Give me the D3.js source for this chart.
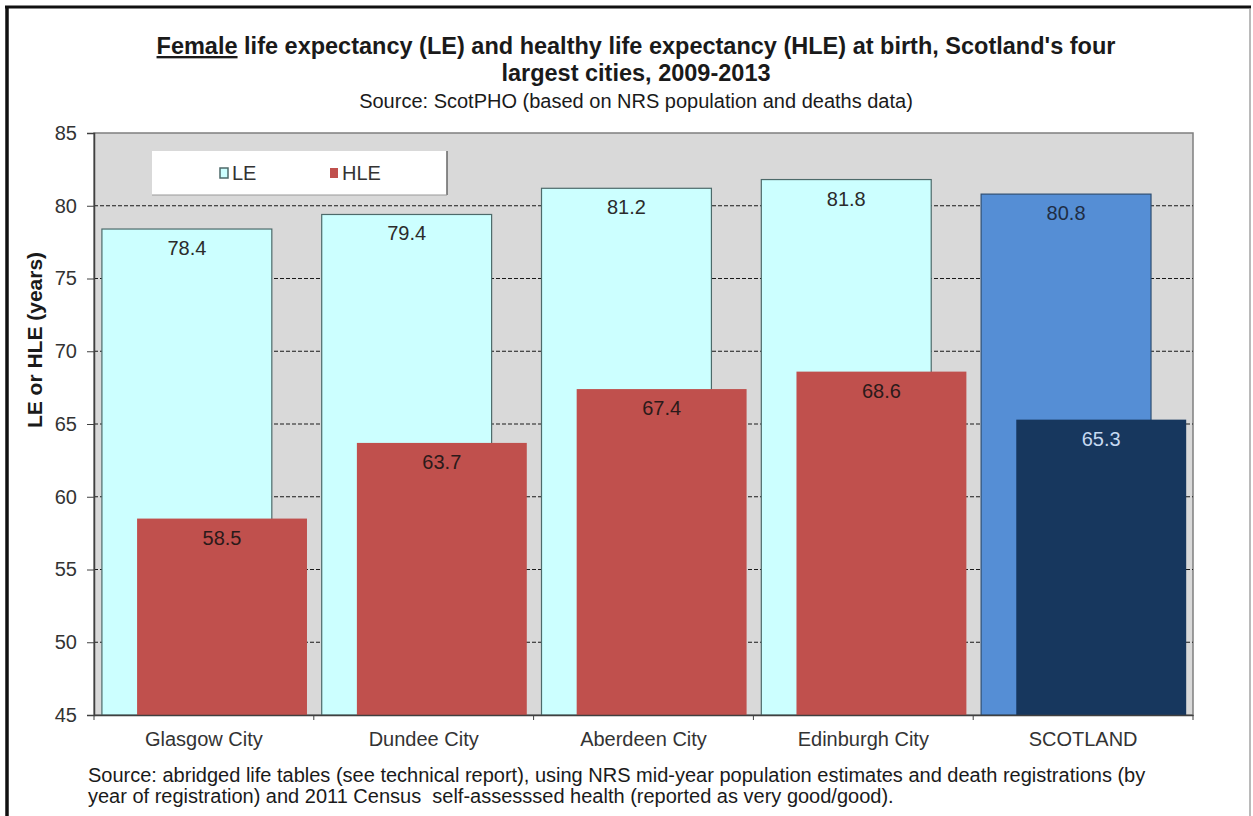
<!DOCTYPE html>
<html>
<head>
<meta charset="utf-8">
<script src="https://cdn.jsdelivr.net/npm/d3@7"></script>
<style>
  html, body { margin: 0; padding: 0; background: #fff; }
  svg { display: block; font-family: "Liberation Sans", Arial, sans-serif; }
</style>
</head>
<body>
<svg id="chart" width="1253" height="816"></svg>
<script>
// Female life expectancy (LE) and healthy life expectancy (HLE), 2009-2013
const categories = ["Glasgow City", "Dundee City", "Aberdeen City", "Edinburgh City", "SCOTLAND"];
const leValues  = [78.4, 79.4, 81.2, 81.8, 80.8];
const hleValues = [58.5, 63.7, 67.4, 68.6, 65.3];
const yTicks = [45, 50, 55, 60, 65, 70, 75, 80, 85];
const seriesNames = ["LE", "HLE"];

const svg = d3.select("#chart");
const W = 1253, H = 816;
const FONT = "Liberation Sans, Arial, sans-serif";

const plot = { left: 94, right: 1193, top: 133, bottom: 715 };

const x = d3.scaleBand().domain(categories).range([plot.left, plot.right]).padding(0);
const y = d3.scaleLinear().domain([45, 85]).range([plot.bottom, plot.top]);

const bw = x.bandwidth();
const barW = bw * 0.773;
const leOff = bw * 0.036;
const hleOff = bw * 0.196;

const colLE = c => c === "SCOTLAND" ? "#558ed5" : "#ccffff";
const colHLE = c => c === "SCOTLAND" ? "#17375e" : "#c0504d";

// outer frame
svg.append("rect").attr("x", 0).attr("y", 0).attr("width", W).attr("height", H).attr("fill", "#fff");
svg.append("line").attr("x1", 7).attr("x2", 7).attr("y1", 7).attr("y2", H).attr("stroke", "#111").attr("stroke-width", 3.5);
svg.append("line").attr("x1", 5).attr("x2", 1251).attr("y1", 7).attr("y2", 7).attr("stroke", "#111").attr("stroke-width", 3);
svg.append("line").attr("x1", 1250).attr("x2", 1250).attr("y1", 8).attr("y2", H).attr("stroke", "#8c8c8c").attr("stroke-width", 1.2);

// plot background
svg.append("rect")
  .attr("x", plot.left).attr("y", plot.top)
  .attr("width", plot.right - plot.left).attr("height", plot.bottom - plot.top)
  .attr("fill", "#d9d9d9").attr("stroke", "#7f7f7f").attr("stroke-width", 1.5);

// gridlines
svg.append("g").selectAll("line")
  .data(yTicks.filter(t => t > 45 && t < 85))
  .join("line")
  .attr("x1", plot.left).attr("x2", plot.right)
  .attr("y1", d => y(d)).attr("y2", d => y(d))
  .attr("stroke", "#1a1a1a").attr("stroke-width", 1.2)
  .attr("stroke-dasharray", "4,2");

// LE bars
svg.append("g").selectAll("rect")
  .data(categories)
  .join("rect")
  .attr("x", (c) => x(c) + leOff)
  .attr("y", (c, i) => y(leValues[i]))
  .attr("width", barW)
  .attr("height", (c, i) => y(45) - y(leValues[i]))
  .attr("fill", colLE)
  .attr("stroke", c => c === "SCOTLAND" ? "#2f4f73" : "#4d6a6a")
  .attr("stroke-width", 1.2);

// HLE bars
svg.append("g").selectAll("rect")
  .data(categories)
  .join("rect")
  .attr("x", (c) => x(c) + hleOff)
  .attr("y", (c, i) => y(hleValues[i]))
  .attr("width", barW)
  .attr("height", (c, i) => y(45) - y(hleValues[i]))
  .attr("fill", colHLE);

// value labels
svg.append("g").selectAll("text")
  .data(categories)
  .join("text")
  .attr("x", c => x(c) + leOff + barW / 2)
  .attr("y", (c, i) => y(leValues[i]) + 26)
  .attr("text-anchor", "middle")
  .attr("font-size", 20)
  .attr("fill", c => c === "SCOTLAND" ? "#1f2d44" : "#2b2b2b")
  .text((c, i) => leValues[i].toFixed(1));

svg.append("g").selectAll("text")
  .data(categories)
  .join("text")
  .attr("x", c => x(c) + hleOff + barW / 2)
  .attr("y", (c, i) => y(hleValues[i]) + 26)
  .attr("text-anchor", "middle")
  .attr("font-size", 20)
  .attr("fill", c => c === "SCOTLAND" ? "#c6d9f1" : "#2b1a1a")
  .text((c, i) => hleValues[i].toFixed(1));

// y axis
const yAxis = d3.axisLeft(y).tickValues(yTicks).tickSize(7).tickPadding(10).tickFormat(d3.format("d"));
const gy = svg.append("g").attr("transform", `translate(${plot.left},0)`).call(yAxis);
gy.select(".domain").attr("stroke", "#404040").attr("stroke-width", 1.5);
gy.selectAll(".tick line").attr("stroke", "#404040");
gy.selectAll(".tick text").attr("font-size", 20).attr("fill", "#333").attr("font-family", FONT);

// x axis
const xAxis = d3.axisBottom(x).tickSize(0).tickPadding(17);
const gx = svg.append("g").attr("transform", `translate(0,${plot.bottom})`).call(xAxis);
gx.select(".domain").attr("stroke", "#404040").attr("stroke-width", 1.5);
gx.selectAll(".tick text").attr("font-size", 20).attr("fill", "#333").attr("font-family", FONT);
// category boundary ticks
svg.append("g").selectAll("line")
  .data(d3.range(categories.length + 1))
  .join("line")
  .attr("x1", i => plot.left + i * bw).attr("x2", i => plot.left + i * bw)
  .attr("y1", plot.bottom).attr("y2", plot.bottom + 5)
  .attr("stroke", "#404040");

// y axis title
svg.append("text")
  .attr("transform", `translate(42,${340}) rotate(-90)`)
  .attr("text-anchor", "middle")
  .attr("font-size", 21).attr("font-weight", "bold").attr("fill", "#1a1a1a")
  .text("LE or HLE (years)");

// legend
const lg = svg.append("g");
lg.append("rect").attr("x", 152).attr("y", 151).attr("width", 295).attr("height", 44)
  .attr("fill", "#fff").attr("stroke", "none");
lg.append("line").attr("x1", 447).attr("x2", 447).attr("y1", 151).attr("y2", 195).attr("stroke", "#666").attr("stroke-width", 1.5);
lg.append("line").attr("x1", 152).attr("x2", 447).attr("y1", 195).attr("y2", 195).attr("stroke", "#999").attr("stroke-width", 1);
const legendItems = [
  { name: seriesNames[0], x: 220, fill: "#ccffff", stroke: "#4d6a6a" },
  { name: seriesNames[1], x: 330, fill: "#c0504d", stroke: "none" }
];
legendItems.forEach(it => {
  lg.append("rect").attr("x", it.x).attr("y", 168).attr("width", 8).attr("height", 10)
    .attr("fill", it.fill).attr("stroke", it.stroke).attr("stroke-width", 1.5);
  lg.append("text").attr("x", it.x + 12).attr("y", 180)
    .attr("font-size", 20).attr("fill", "#333").text(it.name);
});

// title
const t1 = svg.append("text").attr("x", 636).attr("y", 54).attr("text-anchor", "middle")
  .attr("font-size", 23.5).attr("font-weight", "bold").attr("fill", "#1a1a1a");
t1.append("tspan").attr("text-decoration", "underline").text("Female");
t1.append("tspan").text(" life expectancy (LE) and healthy life expectancy (HLE) at birth, Scotland's four");
svg.append("text").attr("x", 636).attr("y", 81).attr("text-anchor", "middle")
  .attr("font-size", 23.5).attr("font-weight", "bold").attr("fill", "#1a1a1a")
  .text("largest cities, 2009-2013");
svg.append("text").attr("x", 636).attr("y", 108).attr("text-anchor", "middle")
  .attr("font-size", 20).attr("fill", "#1a1a1a")
  .text("Source: ScotPHO (based on NRS population and deaths data)");

// footnote
svg.append("text").attr("x", 88).attr("y", 782).attr("font-size", 20).attr("fill", "#1a1a1a")
  .text("Source: abridged life tables (see technical report), using NRS mid-year population estimates and death registrations (by");
svg.append("text").attr("x", 88).attr("y", 803).attr("font-size", 20).attr("fill", "#1a1a1a")
  .attr("xml:space", "preserve")
  .text("year of registration) and 2011 Census  self-assesssed health (reported as very good/good).");
</script>
</body>
</html>
